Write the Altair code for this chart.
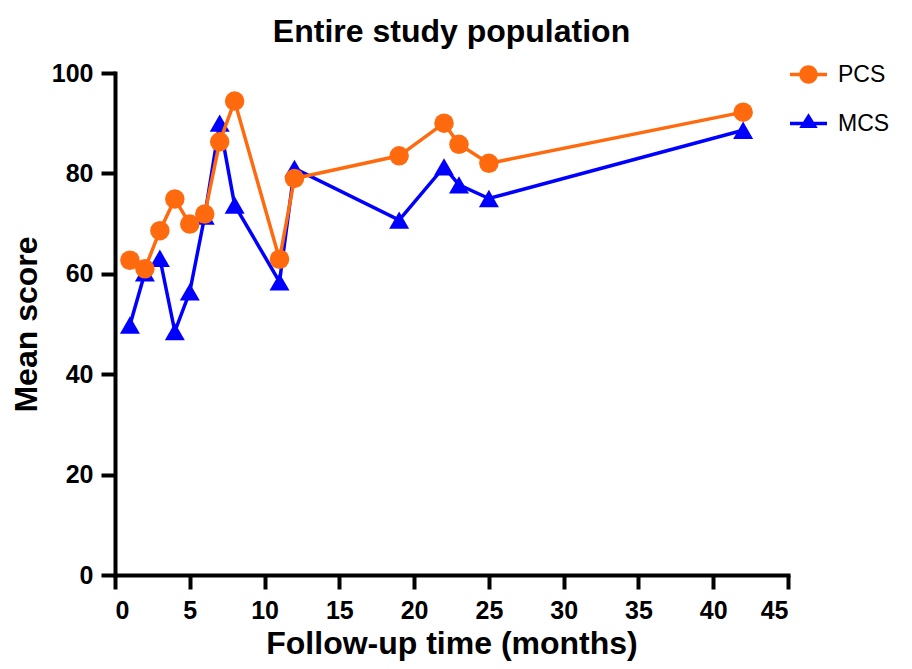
import altair as alt
import pandas as pd

months = [1, 2, 3, 4, 5, 6, 7, 8, 11, 12, 19, 22, 23, 25, 42]
pcs = [62.7, 61.0, 68.6, 74.9, 69.9, 71.9, 86.3, 94.4, 62.9, 79.0, 83.5, 90.0, 85.8, 82.0, 92.2]
mcs = [49.8, 60.2, 63.1, 48.5, 56.4, 71.5, 90.0, 73.7, 58.4, 81.0, 70.7, 81.3, 77.7, 75.0, 88.6]
series_names = ["PCS", "MCS"]
series_colors = ["#FF6A0E", "#0000FF"]
x_ticks = [0, 5, 10, 15, 20, 25, 30, 35, 40, 45]
y_ticks = [0, 20, 40, 60, 80, 100]

rows = []
for m, p, q in zip(months, pcs, mcs):
    rows.append({"month": m, "score": p, "series": "PCS"})
    rows.append({"month": m, "score": q, "series": "MCS"})
df = pd.DataFrame(rows)

FONT = "Liberation Sans"

x_enc = alt.X("month:Q", scale=alt.Scale(domain=[0, 45], nice=False),
              axis=alt.Axis(values=x_ticks, title="Follow-up time (months)",
                            titlePadding=5, labelPadding=9))
y_enc = alt.Y("score:Q", scale=alt.Scale(domain=[0, 100], nice=False),
              axis=alt.Axis(values=y_ticks, title="Mean score",
                            titlePadding=8, labelPadding=8))

base = alt.Chart(df).encode(x=x_enc, y=y_enc)

mcs_line = base.transform_filter(alt.datum.series == "MCS").mark_line(
    color=series_colors[1], strokeWidth=3.5)
mcs_pts = base.transform_filter(alt.datum.series == "MCS").mark_point(
    shape="triangle-up", filled=True, size=400, opacity=1, color=series_colors[1])
pcs_line = base.transform_filter(alt.datum.series == "PCS").mark_line(
    color=series_colors[0], strokeWidth=3.5)
pcs_pts = base.transform_filter(alt.datum.series == "PCS").mark_point(
    shape="circle", filled=True, size=380, opacity=1, color=series_colors[0])

circle_sym = ("M-1,-0.09 L-0.45,-0.09 L-0.45,0.09 L-1,0.09 Z "
              "M0.45,-0.09 L1,-0.09 L1,0.09 L0.45,0.09 Z "
              "M-0.5,0 A0.5,0.5 0 1,1 0.5,0 A0.5,0.5 0 1,1 -0.5,0 Z")
tri_sym = ("M-1,-0.09 L1,-0.09 L1,0.09 L-1,0.09 Z "
           "M0,-0.56 L0.5,0.24 L-0.5,0.24 Z")

leg = dict(title=None, orient="none", legendX=675, legendY=-17,
           symbolSize=1369, symbolStrokeWidth=0,
           labelFontSize=23, labelFont=FONT, labelColor="black",
           labelOffset=11, rowPadding=18, padding=0)

legend_layer = base.transform_filter("false").mark_point(
    filled=True, opacity=1, strokeWidth=0).encode(
    color=alt.Color("series:N",
                    scale=alt.Scale(domain=series_names, range=series_colors),
                    legend=alt.Legend(**leg)),
    shape=alt.Shape("series:N",
                    scale=alt.Scale(domain=series_names, range=[circle_sym, tri_sym]),
                    legend=alt.Legend(**leg)),
)

chart = alt.layer(mcs_line, mcs_pts, pcs_line, pcs_pts, legend_layer).properties(
    width=673, height=502,
    title=alt.Title("Entire study population", fontSize=32, font=FONT, fontWeight="bold",
                    anchor="middle", baseline="alphabetic", offset=14, dy=32, color="black"),
    autosize=alt.AutoSizeParams(type="none"),
    padding={"left": 107, "top": 65, "right": 110, "bottom": 87},
).configure_view(stroke=None).configure_axis(
    grid=False, domainColor="black", domainWidth=4, tickColor="black", tickWidth=4,
    tickSize=14, labelFont=FONT, labelFontSize=25, labelFontWeight="bold",
    labelColor="black", titleFont=FONT, titleFontSize=32, titleFontWeight="bold",
    titleColor="black", domainCap="square",
)

chart.save("out.html", embed_options={"renderer": "svg", "actions": False})
